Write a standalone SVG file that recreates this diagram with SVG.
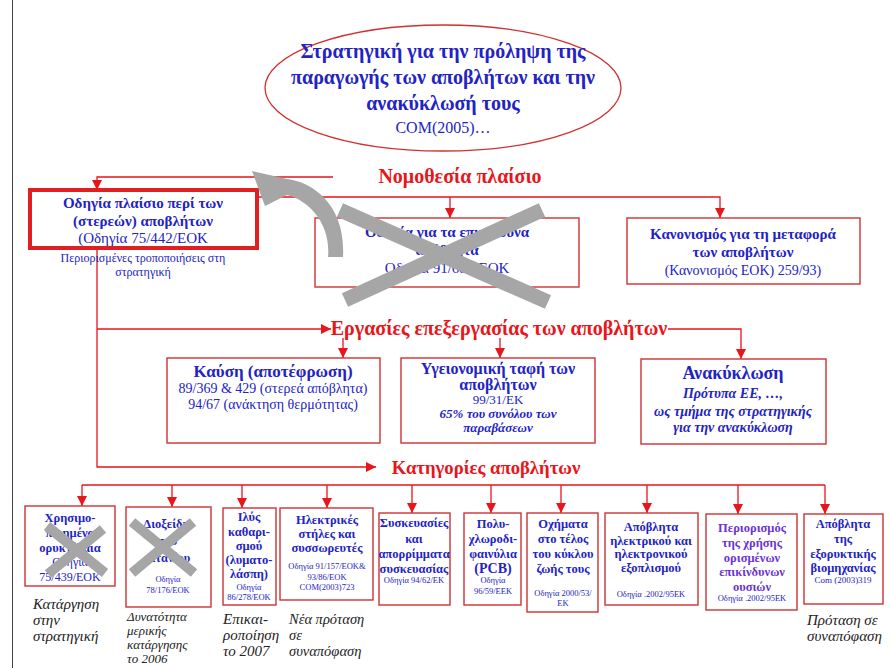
<svg xmlns="http://www.w3.org/2000/svg" width="891" height="668" viewBox="0 0 891 668" font-family="'Liberation Serif','Times New Roman',Tinos,'DejaVu Serif',serif">
<defs>
<marker id="ah" markerUnits="userSpaceOnUse" markerWidth="10" markerHeight="10" refX="10" refY="5" orient="auto"><path d="M0,0 L10,5 L0,10 Z" fill="#e8151b"/></marker>
</defs>
<style>
.t{text-anchor:middle;fill:#2323c4}
.b{font-weight:bold}
.i{font-style:italic}
.red{fill:#e8151b;font-weight:bold;font-size:20px}
.box{fill:#fff;stroke:#cc3333;stroke-width:1.4}
.ln{fill:none;stroke:#e8151b;stroke-width:1.3}
.note{font-style:italic;fill:#222}
.grey{stroke:#a6a6a6;fill:none}
.s13{font-size:12.5px}
.s9{font-size:8.5px}
.pur{fill:#6a34d0}
</style>
<rect width="891" height="668" fill="#fff"/>
<line x1="12.5" y1="0" x2="12.5" y2="668" stroke="#444" stroke-width="1"/>

<g id="connectors">
<path class="ln" d="M333,177 H97 V190" marker-end="url(#ah)"/>
<path class="ln" d="M258,197 H720 V218" marker-end="url(#ah)"/>
<path class="ln" d="M450,197 V218" marker-end="url(#ah)"/>
<path class="ln" d="M97,248 V467 H376" marker-end="url(#ah)"/>
<path class="ln" d="M97,329 H331" marker-end="url(#ah)"/>
<path class="ln" d="M668,329 H741 V359" marker-end="url(#ah)"/>
<path class="ln" d="M343,338 V358" marker-end="url(#ah)"/>
<path class="ln" d="M500,338 V358" marker-end="url(#ah)"/>
<path class="ln" d="M82,485 H825"/>
<path class="ln" d="M82,485 V506" marker-end="url(#ah)"/>
<path class="ln" d="M172,485 V507" marker-end="url(#ah)"/>
<path class="ln" d="M242,485 V508" marker-end="url(#ah)"/>
<path class="ln" d="M327,485 V508" marker-end="url(#ah)"/>
<path class="ln" d="M412,485 V513" marker-end="url(#ah)"/>
<path class="ln" d="M491,485 V513" marker-end="url(#ah)"/>
<path class="ln" d="M561,485 V513" marker-end="url(#ah)"/>
<path class="ln" d="M647,485 V513" marker-end="url(#ah)"/>
<path class="ln" d="M738,485 V514" marker-end="url(#ah)"/>
<path class="ln" d="M825,485 V514" marker-end="url(#ah)"/>
</g>

<g id="strategy">
<ellipse cx="443" cy="88" rx="178" ry="63" fill="#fff" stroke="#d03030" stroke-width="1.3"/>
<text class="t b" font-size="20" x="443" y="58">Στρατηγική για την πρόληψη της</text>
<text class="t b" font-size="20" x="443" y="84">παραγωγής των αποβλήτων και την</text>
<text class="t b" font-size="20" x="443" y="110">ανακύκλωσή τους</text>
<text class="t" font-size="16" x="443" y="133">COM(2005)…</text>
</g>

<g id="legislation-label"><text class="red" x="460" y="183" text-anchor="middle">Νομοθεσία πλαίσιο</text></g>

<g id="framework-directive">
<rect x="30" y="190" width="227" height="58" fill="#fff" stroke="#e02020" stroke-width="4"/>
<text class="t b" font-size="15" x="143" y="208">Οδηγία πλαίσιο περί των</text>
<text class="t b" font-size="15" x="143" y="226">(στερεών) αποβλήτων</text>
<text class="t" font-size="15" x="143" y="243">(Οδηγία 75/442/ΕΟΚ</text>
<text class="t" font-size="12" x="143" y="262">Περιορισμένες τροποποιήσεις στη</text>
<text class="t" font-size="12" x="143" y="276">στρατηγική</text>
</g>

<g id="hazardous-directive">
<rect class="box" x="315" y="218" width="264" height="69"/>
<text class="t b" font-size="15" x="447" y="237">Οδηγία για τα επικίνδυνα</text>
<text class="t b" font-size="15" x="447" y="255">απόβλητα</text>
<text class="t" font-size="15" x="447" y="273">Οδηγία 91/689/ΕΟΚ</text>
<path class="grey" stroke-width="15" d="M340,210 L548,302 M542,210 L345,300"/>
</g>

<g id="grey-arrow">
<path d="M252,171 L287,179 C313,182 346,205 343,257 L328,257 C331,226 311,201 287,195 L265,206 Z" fill="#a6a6a6"/>
</g>

<g id="shipment-regulation">
<rect class="box" x="627" y="218" width="233" height="66"/>
<text class="t b" font-size="15" x="743" y="239">Κανονισμός για τη μεταφορά</text>
<text class="t b" font-size="15" x="743" y="257">των αποβλήτων</text>
<text class="t" font-size="14" x="743" y="275">(Κανονισμός ΕΟΚ) 259/93)</text>
</g>

<g id="treatment-label"><text class="red" x="499" y="335" text-anchor="middle">Εργασίες επεξεργασίας των αποβλήτων</text></g>

<g id="incineration">
<rect class="box" x="167" y="358" width="213" height="85"/>
<text class="t b" font-size="17" x="273" y="377">Καύση (αποτέφρωση)</text>
<text class="t" font-size="14" x="273" y="393">89/369 &amp; 429 (στερεά απόβλητα)</text>
<text class="t" font-size="14" x="273" y="409">94/67 (ανάκτηση θερμότητας)</text>
</g>

<g id="landfill">
<rect class="box" x="401" y="358" width="194" height="85"/>
<text class="t b" font-size="16" x="498" y="374">Υγειονομική ταφή των</text>
<text class="t b" font-size="16" x="498" y="390">αποβλήτων</text>
<text class="t" font-size="13" x="498" y="404">99/31/ΕΚ</text>
<text class="t b i" font-size="13" x="498" y="418">65% του συνόλου των</text>
<text class="t b i" font-size="13" x="498" y="432">παραβάσεων</text>
</g>

<g id="recycling">
<rect class="box" x="641" y="359" width="185" height="85"/>
<text class="t b" font-size="18" x="733" y="379">Ανακύκλωση</text>
<text class="t b i" font-size="14" x="733" y="398">Πρότυπα ΕΕ, …,</text>
<text class="t b i" font-size="14" x="733" y="416">ως τμήμα της στρατηγικής</text>
<text class="t b i" font-size="14" x="733" y="432">για την ανακύκλωση</text>
</g>

<g id="categories-label"><text class="red" x="486" y="474" text-anchor="middle" style="font-size:18.7px">Κατηγορίες αποβλήτων</text></g>

<g id="waste-oils">
<rect class="box" x="25" y="506" width="90" height="80"/>
<text class="t b s13" x="70" y="522">Χρησιμο-</text>
<text class="t b s13" x="70" y="537">ποιημένα</text>
<text class="t b s13" x="70" y="552">ορυκτέλαια</text>
<text class="t" font-size="12" x="70" y="566">Οδηγία</text>
<text class="t" font-size="12" x="70" y="581">75/439/ΕΟΚ</text>
<path class="grey" stroke-width="10" d="M47,526 L105,573 M103,529 L48,574"/>
<text class="note" font-size="15" x="33" y="609">Κατάργηση</text>
<text class="note" font-size="15" x="33" y="625">στην</text>
<text class="note" font-size="15" x="33" y="641">στρατηγική</text>
</g>

<g id="titanium-dioxide">
<rect class="box" x="126" y="507" width="85" height="100"/>
<text class="t b s13" x="168" y="528">Διοξείδιο</text>
<text class="t b s13" x="168" y="545">του</text>
<text class="t b s13" x="168" y="562">τιτανίου</text>
<text class="t s9" x="168" y="582">Οδηγία</text>
<text class="t s9" x="168" y="593">78/176/ΕΟΚ</text>
<path class="grey" stroke-width="10" d="M132,522 L194,573 M193,522 L132,573"/>
<text class="note" font-size="13" x="127" y="621">Δυνατότητα</text>
<text class="note" font-size="13" x="127" y="635">μερικής</text>
<text class="note" font-size="13" x="127" y="649">κατάργησης</text>
<text class="note" font-size="13" x="127" y="663">το 2006</text>
</g>

<g id="sewage-sludge">
<rect class="box" x="223" y="508" width="53" height="97"/>
<text class="t b s13" x="249" y="521">Ιλύς</text>
<text class="t b s13" x="249" y="536">καθαρι-</text>
<text class="t b s13" x="249" y="550">σμού</text>
<text class="t b s13" x="249" y="564">(λυματο-</text>
<text class="t b s13" x="249" y="578">λάσπη)</text>
<text class="t s9" x="249" y="590">Οδηγία</text>
<text class="t s9" x="249" y="600">86/278/ΕΟΚ</text>
<text class="note" font-size="15" x="223" y="624">Επικαι-</text>
<text class="note" font-size="15" x="223" y="640">ροποίηση</text>
<text class="note" font-size="15" x="223" y="656">το 2007</text>
</g>

<g id="batteries">
<rect class="box" x="280" y="508" width="93" height="92"/>
<text class="t b s13" x="327" y="524">Ηλεκτρικές</text>
<text class="t b s13" x="327" y="538">στήλες και</text>
<text class="t b s13" x="327" y="552">συσσωρευτές</text>
<text class="t s9" x="327" y="569">Οδηγία 91/157/ΕΟΚ&amp;</text>
<text class="t s9" x="327" y="580">93/86/ΕΟΚ</text>
<text class="t s9" x="327" y="590">COM(2003)723</text>
<text class="note" font-size="14.5" x="289" y="624">Νέα πρόταση</text>
<text class="note" font-size="14.5" x="289" y="640">σε</text>
<text class="note" font-size="14.5" x="289" y="656">συναπόφαση</text>
</g>

<g id="packaging">
<rect class="box" x="379" y="513" width="71" height="92"/>
<text class="t b s13" x="414" y="527">Συσκευασίες</text>
<text class="t b s13" x="414" y="543">και</text>
<text class="t b s13" x="414" y="558">απορρίμματα</text>
<text class="t b s13" x="414" y="573">συσκευασίας</text>
<text class="t s9" x="414" y="583">Οδηγία 94/62/ΕΚ</text>
</g>

<g id="pcb">
<rect class="box" x="464" y="513" width="57" height="92"/>
<text class="t b s13" x="493" y="528">Πολυ-</text>
<text class="t b s13" x="493" y="543">χλωροδι-</text>
<text class="t b s13" x="493" y="558">φαινύλια</text>
<text class="t b" font-size="14" x="493" y="573">(PCB)</text>
<text class="t s9" x="493" y="583">Οδηγία</text>
<text class="t s9" x="493" y="594">96/59/ΕΕΚ</text>
</g>

<g id="end-of-life-vehicles">
<rect class="box" x="527" y="513" width="71" height="99"/>
<text class="t b s13" x="563" y="528">Οχήματα</text>
<text class="t b s13" x="563" y="543">στο τέλος</text>
<text class="t b s13" x="563" y="558">του κύκλου</text>
<text class="t b s13" x="563" y="573">ζωής τους</text>
<text class="t s9" x="563" y="596">Οδηγία 2000/53/</text>
<text class="t s9" x="563" y="606">ΕΚ</text>
</g>

<g id="weee">
<rect class="box" x="605" y="513" width="93" height="92"/>
<text class="t b s13" x="651" y="531">Απόβλητα</text>
<text class="t b s13" x="651" y="545">ηλεκτρικού και</text>
<text class="t b s13" x="651" y="558">ηλεκτρονικού</text>
<text class="t b s13" x="651" y="572">εξοπλισμού</text>
<text class="t s9" x="651" y="597">Οδηγία .2002/95ΕΚ</text>
</g>

<g id="hazardous-substances">
<rect class="box" x="706" y="514" width="91" height="96"/>
<text class="t b s13 pur" x="752" y="532">Περιορισμός</text>
<text class="t b s13 pur" x="752" y="547">της χρήσης</text>
<text class="t b s13 pur" x="752" y="562">ορισμένων</text>
<text class="t b s13 pur" x="752" y="576">επικίνδυνων</text>
<text class="t b s13 pur" x="752" y="591">ουσιών</text>
<text class="t s9" x="752" y="601">Οδηγία .2002/95ΕΚ</text>
</g>

<g id="mining-waste">
<rect class="box" x="804" y="514" width="79" height="90"/>
<text class="t b s13" x="843" y="528">Απόβλητα</text>
<text class="t b s13" x="843" y="543">της</text>
<text class="t b s13" x="843" y="558">εξορυκτικής</text>
<text class="t b s13" x="843" y="572">βιομηχανίας</text>
<text class="t" font-size="9" x="843" y="583">Com (2003)319</text>
<text class="note" font-size="15" x="807" y="625">Πρόταση σε</text>
<text class="note" font-size="15" x="807" y="641">συναπόφαση</text>
</g>
</svg>
